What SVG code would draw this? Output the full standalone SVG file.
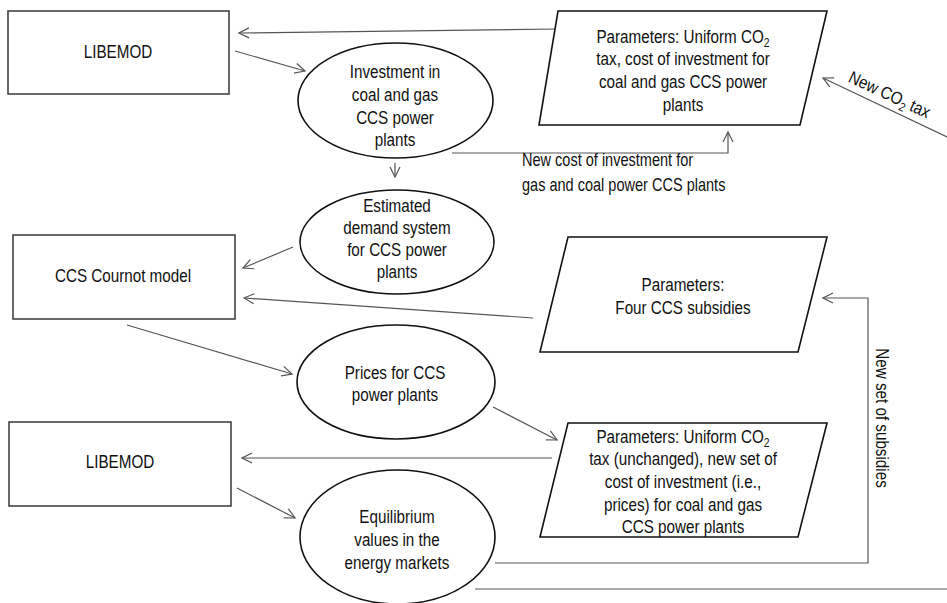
<svg xmlns="http://www.w3.org/2000/svg" width="947" height="603" viewBox="0 0 947 603">
<defs>
<marker id="arr" viewBox="0 0 12 12" refX="11" refY="6" markerWidth="12" markerHeight="12" markerUnits="userSpaceOnUse" orient="auto">
<path d="M1,1 L11,6 L1,11" fill="none" stroke="#555" stroke-width="1.2"/>
</marker>
<style>
.box{fill:#fff;stroke:#444;stroke-width:1.6}
.ell{fill:#fff;stroke:#111;stroke-width:1.6}
.par{fill:#fff;stroke:#111;stroke-width:1.6}
.con{fill:none;stroke:#555;stroke-width:1.2}
text{font-family:"Liberation Sans",Arial,sans-serif;font-size:17.5px;fill:#111;text-anchor:middle;transform-box:fill-box;transform-origin:center;transform:scaleX(0.87)}
.lbl{text-anchor:start;transform-origin:left center;font-size:17.5px;transform:scaleX(0.83)}
</style>
</defs>
<rect width="947" height="603" fill="#fff"/>
<g id="connectors">
<path class="con" d="M557,29 L239,33" marker-end="url(#arr)"/>
<path class="con" d="M235,51 L305,71" marker-end="url(#arr)"/>
<path class="con" d="M395,163 L395,177" marker-end="url(#arr)"/>
<path class="con" d="M452,153 L728,153 L728,132" marker-end="url(#arr)"/>
<path class="con" d="M947,137 L823,78" marker-end="url(#arr)"/>
<path class="con" d="M293,247 L243,268" marker-end="url(#arr)"/>
<path class="con" d="M533,318 L244,298" marker-end="url(#arr)"/>
<path class="con" d="M127,325 L292,374" marker-end="url(#arr)"/>
<path class="con" d="M493,407 L557,440" marker-end="url(#arr)"/>
<path class="con" d="M552,458 L242,458" marker-end="url(#arr)"/>
<path class="con" d="M237,488 L295,518" marker-end="url(#arr)"/>
<path class="con" d="M495,563 L868,563 L868,298 L823,298" marker-end="url(#arr)"/>
<path class="con" d="M475,589 L947,589"/>
<text class="lbl" x="522" y="166">New cost of investment for</text>
<text class="lbl" x="522" y="191">gas and coal power CCS plants</text>
<g transform="translate(887,100) rotate(25)"><text x="0" y="0">New CO<tspan font-size="12" dy="4">2</tspan><tspan dy="-4"> tax</tspan></text></g>
<g transform="translate(876,418) rotate(90)"><text x="0" y="0">New set of subsidies</text></g>
</g>
<g id="libemod1">
<rect class="box" x="8" y="11" width="221" height="83"/>
<text x="118" y="58">LIBEMOD</text>
</g>
<g id="investment">
<ellipse class="ell" cx="395.5" cy="100.5" rx="97.5" ry="57.5"/>
<text x="395" y="78">Investment in</text>
<text x="395" y="101">coal and gas</text>
<text x="395" y="124">CCS power</text>
<text x="395" y="146">plants</text>
</g>
<g id="params1">
<polygon class="par" points="558,11 827,11 800,125 539,125"/>
<text x="683" y="43">Parameters: Uniform CO<tspan font-size="12" dy="4">2</tspan></text>
<text x="683" y="65">tax, cost of investment for</text>
<text x="683" y="88">coal and gas CCS power</text>
<text x="683" y="111">plants</text>
</g>
<g id="demand">
<ellipse class="ell" cx="397" cy="242" rx="97" ry="52"/>
<text x="397" y="212">Estimated</text>
<text x="397" y="234">demand system</text>
<text x="397" y="256">for CCS power</text>
<text x="397" y="278">plants</text>
</g>
<g id="cournot">
<rect class="box" x="13" y="235" width="222" height="84"/>
<text x="123" y="282">CCS Cournot model</text>
</g>
<g id="params2">
<polygon class="par" points="568,237 827,237 798,352 540,352"/>
<text x="683" y="291">Parameters:</text>
<text x="683" y="314">Four CCS subsidies</text>
</g>
<g id="prices">
<ellipse class="ell" cx="396" cy="382" rx="99" ry="57"/>
<text x="395" y="379">Prices for CCS</text>
<text x="395" y="401">power plants</text>
</g>
<g id="libemod2">
<rect class="box" x="9" y="422" width="222" height="84"/>
<text x="120" y="468">LIBEMOD</text>
</g>
<g id="params3">
<polygon class="par" points="568,423 827,423 798,537 540,537"/>
<text x="683" y="443">Parameters: Uniform CO<tspan font-size="12" dy="4">2</tspan></text>
<text x="683" y="465">tax (unchanged), new set of</text>
<text x="683" y="488">cost of investment (i.e.,</text>
<text x="683" y="511">prices) for coal and gas</text>
<text x="683" y="533">CCS power plants</text>
</g>
<g id="equilibrium">
<ellipse class="ell" cx="397.5" cy="537" rx="97.5" ry="67"/>
<text x="397" y="523">Equilibrium</text>
<text x="397" y="546">values in the</text>
<text x="397" y="569">energy markets</text>
</g>
</svg>
